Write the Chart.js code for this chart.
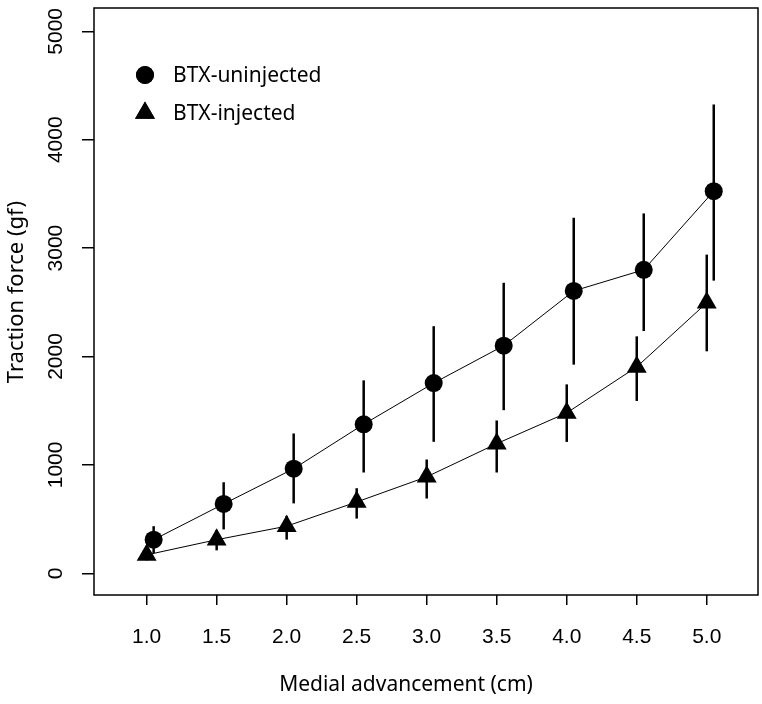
<!DOCTYPE html>
<html>
<head>
<meta charset="utf-8">
<script src="https://cdn.jsdelivr.net/npm/chart.js@4.4.1/dist/chart.umd.min.js"></script>
<style>
  html, body { margin: 0; padding: 0; background: #fff; overflow: hidden; }
  canvas { display: block; }
</style>
</head>
<body>
<canvas id="tractionChart" width="762" height="704"></canvas>
<script>
// medial advancement (cm)
var advancement = [1.0, 1.5, 2.0, 2.5, 3.0, 3.5, 4.0, 4.5, 5.0];
var xTickValues = [1.0, 1.5, 2.0, 2.5, 3.0, 3.5, 4.0, 4.5, 5.0];
var yTickValues = [0, 1000, 2000, 3000, 4000, 5000];

// BTX-uninjected (circles), mean and error-bar ends in gf
var uninjMean  = [310, 640, 965, 1375, 1755, 2100, 2605, 2800, 3525];
var uninjUpper = [435, 840, 1290, 1780, 2280, 2680, 3280, 3320, 4325];
var uninjLower = [185, 405, 645, 930, 1213, 1505, 1925, 2235, 2700];

// BTX-injected (triangles)
var injMean  = [170, 310, 435, 658, 890, 1196, 1480, 1904, 2495];
var injUpper = [220, 400, 530, 785, 1050, 1410, 1743, 2186, 2940];
var injLower = [120, 212, 311, 505, 690, 930, 1212, 1590, 2048];

var seriesLabels = ['BTX-uninjected', 'BTX-injected'];
var xTitle = 'Medial advancement (cm)';
var yTitle = 'Traction force (gf)';
var uninjShift = 0.05; // circles are drawn a little to the right of the tick

var numFont = '"Liberation Sans", Arial, sans-serif';
var textFont = '"Noto Sans", "Noto Sans CJK KR", sans-serif';

function toPoints(xs, ys, shift) {
    return xs.map(function (x, i) { return { x: x + shift, y: ys[i] }; });
}

// keep the plot box where R put it: no label overflow padding
function noPadding(s) {
    s.paddingLeft = 0; s.paddingRight = 0; s.paddingTop = 0; s.paddingBottom = 0;
}

// error bars, box, rotated y labels, axis titles and legend
var extrasPlugin = {
    id: 'extras',
    beforeDatasetsDraw: function (chart) {
        var ctx = chart.ctx;
        var xs = chart.scales.x, ys = chart.scales.y;
        var bars = [
            { shift: uninjShift, lo: uninjLower, hi: uninjUpper },
            { shift: 0, lo: injLower, hi: injUpper }
        ];
        ctx.save();
        ctx.strokeStyle = '#000';
        ctx.lineWidth = 2.5;
        bars.forEach(function (b) {
            advancement.forEach(function (a, i) {
                var px = xs.getPixelForValue(a + b.shift);
                ctx.beginPath();
                ctx.moveTo(px, ys.getPixelForValue(b.lo[i]));
                ctx.lineTo(px, ys.getPixelForValue(b.hi[i]));
                ctx.stroke();
            });
        });
        ctx.restore();
    },
    afterDraw: function (chart) {
        var ctx = chart.ctx;
        var area = chart.chartArea;
        var ys = chart.scales.y;
        ctx.save();
        ctx.strokeStyle = '#000';
        ctx.lineWidth = 1.5;
        ctx.strokeRect(area.left, area.top, area.right - area.left, area.bottom - area.top);

        // y tick labels, rotated like R's default
        ctx.fillStyle = '#000';
        ctx.font = '21px ' + numFont;
        ctx.textAlign = 'center';
        ctx.textBaseline = 'middle';
        yTickValues.forEach(function (v) {
            ctx.save();
            ctx.translate(56, ys.getPixelForValue(v));
            ctx.rotate(-Math.PI / 2);
            ctx.fillText(String(v), 0, 0);
            ctx.restore();
        });

        // axis titles (not quite centred on the box in the original)
        ctx.font = '21px ' + textFont;
        ctx.fillText(xTitle, 406, 685);
        ctx.save();
        ctx.font = '22px ' + textFont;
        ctx.translate(17, 292);
        ctx.rotate(-Math.PI / 2);
        ctx.fillText(yTitle, 0, 0);
        ctx.restore();

        // legend
        var styles = ['circle', 'triangle'];
        var radii = [9, 11.5];
        var rows = [75, 113];
        ctx.textAlign = 'left';
        seriesLabels.forEach(function (lab, i) {
            ctx.fillStyle = '#000';
            Chart.helpers.drawPoint(ctx, { pointStyle: styles[i], radius: radii[i], borderWidth: 0 }, 145, rows[i]);
            ctx.fill();
            ctx.fillText(lab, 173, rows[i] + 1);
        });
        ctx.restore();
    }
};

var chart = new Chart(document.getElementById('tractionChart'), {
    type: 'scatter',
    data: {
        datasets: [{
            label: seriesLabels[0],
            data: toPoints(advancement, uninjMean, uninjShift),
            showLine: true,
            borderColor: '#000',
            borderWidth: 1,
            pointStyle: 'circle',
            pointRadius: 9,
            pointHoverRadius: 9,
            pointBackgroundColor: '#000',
            pointBorderWidth: 0
        }, {
            label: seriesLabels[1],
            data: toPoints(advancement, injMean, 0),
            showLine: true,
            borderColor: '#000',
            borderWidth: 1,
            pointStyle: 'triangle',
            pointRadius: 11.5,
            pointHoverRadius: 11.5,
            pointBackgroundColor: '#000',
            pointBorderWidth: 0
        }]
    },
    options: {
        responsive: false,
        devicePixelRatio: 1,
        animation: false,
        layout: { autoPadding: false, padding: { top: 8, right: 4, left: 0, bottom: 0 } },
        plugins: {
            legend: { display: false },
            tooltip: { enabled: false }
        },
        scales: {
            x: {
                type: 'linear',
                min: 0.624,
                max: 5.366,
                afterBuildTicks: function (s) { s.ticks = xTickValues.map(function (v) { return { value: v }; }); },
                afterFit: function (s) { s.height = 109; noPadding(s); },
                border: { display: false },
                grid: { drawOnChartArea: false, drawTicks: true, tickLength: 10, color: '#000', lineWidth: 1.5 },
                ticks: {
                    color: '#000',
                    font: { family: numFont, size: 21 },
                    padding: 20,
                    maxRotation: 0,
                    callback: function (v) { return Number(v).toFixed(1); }
                },
                title: { display: false }
            },
            y: {
                type: 'linear',
                min: -200,
                max: 5215,
                afterBuildTicks: function (s) { s.ticks = yTickValues.map(function (v) { return { value: v }; }); },
                afterFit: function (s) { s.width = 94; noPadding(s); },
                border: { display: false },
                grid: { drawOnChartArea: false, drawTicks: true, tickLength: 12, color: '#000', lineWidth: 1.5 },
                ticks: { display: false },
                title: { display: false }
            }
        }
    },
    plugins: [extrasPlugin]
});
</script>
</body>
</html>
